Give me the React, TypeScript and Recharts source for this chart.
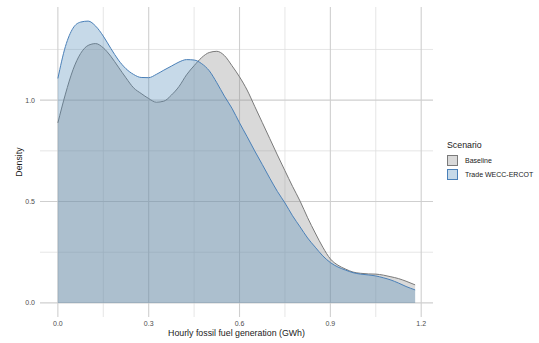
import { ComposedChart, Area, XAxis, YAxis, CartesianGrid } from 'recharts';

// fuel generation (GWh) where the density was read
const genX = [
  0, 0.025, 0.05, 0.075, 0.1, 0.125, 0.15, 0.175, 0.2, 0.225, 0.25, 0.275, 0.3, 0.325, 0.35, 0.375,
  0.4, 0.425, 0.45, 0.475, 0.5, 0.525, 0.55, 0.575, 0.6, 0.625, 0.65, 0.675, 0.7, 0.725, 0.75, 0.775,
  0.8, 0.825, 0.85, 0.875, 0.9, 0.925, 0.95, 0.975, 1.0, 1.025, 1.05, 1.075, 1.1, 1.125, 1.15, 1.18,
];

const baseline = [
  0.888, 1.03, 1.15, 1.23, 1.27, 1.279, 1.258, 1.216, 1.163, 1.11, 1.061, 1.033, 1.008, 0.99, 0.995, 1.025,
  1.067, 1.125, 1.17, 1.21, 1.235, 1.241, 1.22, 1.17, 1.115, 1.05, 0.97, 0.89, 0.81, 0.73, 0.652, 0.575,
  0.502, 0.42, 0.345, 0.275, 0.217, 0.186, 0.167, 0.152, 0.146, 0.143, 0.142, 0.137, 0.129, 0.12, 0.107, 0.089,
];

const tradeWeccErcot = [
  1.107, 1.265, 1.355, 1.385, 1.39, 1.365, 1.316, 1.255, 1.198, 1.155, 1.127, 1.112, 1.111, 1.127, 1.148, 1.168,
  1.188, 1.2, 1.198, 1.18, 1.145, 1.086, 1.02, 0.96, 0.888, 0.82, 0.75, 0.683, 0.615, 0.55, 0.493, 0.43,
  0.375, 0.32, 0.275, 0.232, 0.199, 0.177, 0.162, 0.149, 0.142, 0.138, 0.133, 0.124, 0.113, 0.098, 0.081, 0.064,
];

const xTicks = [0, 0.3, 0.6, 0.9, 1.2];
const xMinor = [0.15, 0.45, 0.75, 1.05];
const yTicks = [0, 0.5, 1.0];
const yMinor = [0.25, 0.75, 1.25];

const data = genX.map((x, i) => ({ x, baseline: baseline[i], trade: tradeWeccErcot[i] }));

const font = '"Liberation Sans", Arial, sans-serif';

const xTitle = (props: any) => {
  const { viewBox } = props;
  const cx = viewBox.x + viewBox.width / 2;
  return (
    <text x={cx} y={333} textAnchor="middle" dominantBaseline="central" fontSize={8.8} fill="#1a1a1a" fontFamily={font}>
      Hourly fossil fuel generation (GWh)
    </text>
  );
};

const yTitle = (props: any) => {
  const { viewBox } = props;
  const cx = viewBox.x + 19;
  const cy = viewBox.y + viewBox.height / 2;
  return (
    <text x={cx} y={cy} transform={`rotate(-90, ${cx}, ${cy})`} textAnchor="middle" dominantBaseline="central"
      fontSize={8.8} fill="#1a1a1a" fontFamily={font}>
      Density
    </text>
  );
};

function LegendBox() {
  const item = (label: string, fill: string, stroke: string) => (
    <div style={{ display: 'flex', alignItems: 'center', height: 13.5 }}>
      <div style={{ width: 11, height: 11, background: fill, border: `1px solid ${stroke}`, boxSizing: 'border-box' }} />
      <span style={{ marginLeft: 7, fontSize: 7, color: '#1a1a1a' }}>{label}</span>
    </div>
  );
  return (
    <div style={{ position: 'absolute', left: 447, top: 140, fontFamily: font }}>
      <div style={{ fontSize: 8.8, color: '#1a1a1a', marginBottom: 3, lineHeight: '11px' }}>Scenario</div>
      {item('Baseline', '#d9d9d9', '#7a7a7a')}
      {item('Trade WECC-ERCOT', '#c6d9e8', '#4a80b8')}
    </div>
  );
}

export default function App() {
  return (
    <div style={{ position: 'absolute', left: 0, top: 0, width: 539, height: 343, background: '#fff' }}>
      <ComposedChart width={539} height={343} data={data} margin={{ top: 7, right: 106, left: 0, bottom: 0 }}>
        <CartesianGrid stroke="#e0e0e0" strokeWidth={0.8} horizontalValues={yMinor} verticalValues={xMinor} />
        <CartesianGrid stroke="#cfcfcf" strokeWidth={1.1} horizontalValues={yTicks} verticalValues={xTicks} />
        <XAxis
          type="number"
          dataKey="x"
          domain={[-0.059, 1.239]}
          ticks={xTicks}
          allowDataOverflow
          axisLine={false}
          tickLine={false}
          tickSize={0}
          tickMargin={4}
          height={26}
          tick={{ fontSize: 7, fill: '#4d4d4d', fontFamily: font }}
          tickFormatter={(v: number) => v.toFixed(1)}
          label={{ content: xTitle }}
        />
        <YAxis
          type="number"
          domain={[-0.0695, 1.4595]}
          ticks={yTicks}
          allowDataOverflow
          axisLine={false}
          tickLine={false}
          tickSize={0}
          tickMargin={5}
          width={40}
          tick={{ fontSize: 7, fill: '#4d4d4d', fontFamily: font }}
          tickFormatter={(v: number) => v.toFixed(1)}
          label={{ content: yTitle }}
        />
        <Area
          type="monotone"
          dataKey="baseline"
          baseValue={0}
          stroke="#7a7a7a"
          strokeWidth={1}
          fill="#8c8c8c"
          fillOpacity={0.33}
          isAnimationActive={false}
          dot={false}
          activeDot={false}
        />
        <Area
          type="monotone"
          dataKey="trade"
          baseValue={0}
          stroke="#4a80b8"
          strokeWidth={1}
          fill="#528cb9"
          fillOpacity={0.33}
          isAnimationActive={false}
          dot={false}
          activeDot={false}
        />
      </ComposedChart>
      <LegendBox />
    </div>
  );
}
